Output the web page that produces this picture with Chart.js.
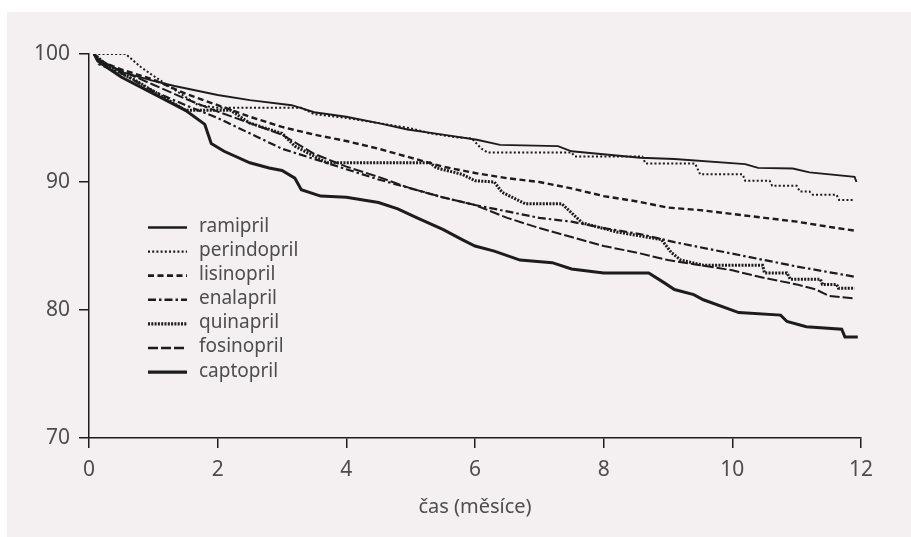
<!DOCTYPE html>
<html lang="cs">
<head>
    <meta charset="UTF-8">
    <title>Přežití podle ACE inhibitoru</title>
    <script src="https://cdn.jsdelivr.net/npm/chart.js"></script>
    <style>
        body {
            margin: 0;
            background: white;
        }
        .panel {
            position: absolute;
            left: 7px;
            top: 12px;
            width: 904px;
            height: 525px;
            background: #f4eff1;
        }
    </style>
</head>
<body>

    <div class="panel">
        <canvas id="kmChart" width="904" height="525"></canvas>
    </div>

    <script>
        // [months, % of patients]
        let ramipril = [[0.08,100],[0.15,99.6],[0.5,98.6],[1,97.9],[1.33,97.5],[2,96.8],[2.5,96.4],[3.15,96.0],[3.5,95.45],[4,95.1],[4.5,94.6],[4.95,94.1],[5.5,93.7],[6.03,93.3],[6.39,92.9],[7.29,92.8],[7.5,92.4],[8.57,91.9],[9.1,91.8],[10.2,91.4],[10.4,91.1],[10.94,91.05],[11.2,90.75],[11.9,90.4],[11.93,90.0]];
        let perindopril = [[0.08,100],[0.57,100],[0.8,99.0],[1,98.3],[1.3,97.3],[1.7,96.0],[2,95.8],[3.3,95.8],[3.5,95.3],[4,95.0],[4.5,94.6],[5,94.2],[5.3,93.8],[5.7,93.5],[5.95,93.4],[6.1,92.6],[6.2,92.3],[7.5,92.3],[7.55,92.0],[8.6,92.0],[8.65,91.45],[9.42,91.45],[9.5,90.6],[10.16,90.6],[10.2,90.1],[10.58,90.1],[10.62,89.7],[11,89.7],[11.05,89.25],[11.2,89.25],[11.25,89.0],[11.62,89.0],[11.66,88.6],[11.9,88.6]];
        let lisinopril = [[0.08,100],[0.15,99.5],[0.5,98.8],[1,98.0],[1.5,96.9],[2,96.0],[2.5,95.1],[3,94.3],[3.5,93.7],[4,93.2],[4.5,92.6],[5,91.9],[5.5,91.2],[6,90.7],[6.5,90.3],[7,90.0],[7.5,89.5],[8,88.9],[8.5,88.5],[9,88.0],[9.5,87.8],[10,87.5],[10.5,87.2],[11,86.9],[11.5,86.5],[11.9,86.2]];
        let enalapril = [[0.08,100],[0.15,99.2],[0.5,98.5],[1,97.1],[1.5,96.0],[2,95.0],[2.5,93.8],[3,92.6],[3.5,91.8],[4,91.0],[4.5,90.2],[5,89.5],[5.5,88.8],[6,88.2],[6.5,87.7],[7,87.2],[7.5,86.9],[8,86.4],[8.6,85.9],[9.1,85.3],[10,84.4],[11,83.4],[11.9,82.6]];
        let quinapril = [[0.08,100],[0.3,99.0],[0.7,98.0],[1.2,96.5],[1.5,95.6],[2.2,95.6],[2.5,94.6],[3,93.8],[3.2,92.8],[3.7,91.5],[5.3,91.5],[5.4,91.1],[5.8,90.6],[6,90.1],[6.3,90.0],[6.42,89.2],[6.78,88.3],[7.35,88.3],[7.67,86.8],[8.2,86.1],[8.9,85.5],[9.05,84.5],[9.2,83.9],[9.55,83.5],[10.47,83.5],[10.5,82.9],[10.85,82.9],[10.9,82.4],[11.37,82.4],[11.4,82.0],[11.62,82.0],[11.65,81.7],[11.9,81.7]];
        let fosinopril = [[0.08,100],[0.15,99.4],[0.5,98.7],[1,97.6],[1.5,96.5],[2,95.5],[2.5,94.6],[3,93.7],[3.5,92.2],[4,91.2],[4.5,90.4],[5,89.5],[5.5,88.8],[6,88.2],[6.5,87.2],[7,86.4],[7.5,85.7],[8,85.0],[8.5,84.5],[9,83.9],[9.5,83.5],[10,83.1],[10.5,82.5],[11,82.0],[11.3,81.6],[11.5,81.1],[11.9,80.9]];
        let captopril = [[0.08,100],[0.15,99.4],[0.5,98.2],[1,96.9],[1.5,95.6],[1.8,94.5],[1.9,93.0],[2.1,92.4],[2.5,91.5],[2.8,91.1],[3,90.9],[3.2,90.3],[3.3,89.4],[3.6,88.9],[4,88.8],[4.5,88.4],[4.8,87.9],[5.1,87.2],[5.5,86.3],[5.8,85.5],[6,85.0],[6.3,84.6],[6.7,83.9],[7.2,83.7],[7.5,83.2],[8,82.9],[8.7,82.9],[8.95,82.1],[9.1,81.6],[9.4,81.2],[9.55,80.8],[10.1,79.8],[10.75,79.6],[10.85,79.1],[11.15,78.7],[11.7,78.5],[11.75,77.9],[11.95,77.9]];

        let xTicks = [0, 2, 4, 6, 8, 10, 12];
        let yTicks = [70, 80, 90, 100];
        let xTitle = "čas (měsíce)";

        let textColor = "#4d4d4d";
        let lineColor = "#1c1c1c";
        let fontFamily = "'Noto Sans', 'Open Sans', sans-serif";

        function series(label, points, width, dash) {
            return {
                label: label,
                data: points.map(p => ({ x: p[0], y: p[1] })),
                borderColor: lineColor,
                borderWidth: width,
                borderDash: dash,
                borderCapStyle: 'butt',
                pointRadius: 0,
                tension: 0,
                fill: false
            };
        }

        // legend drawn inside the plot area, like the original figure
        let innerLegend = {
            id: 'innerLegend',
            afterDraw(chart) {
                let ctx = chart.ctx;
                ctx.save();
                ctx.font = "19px " + fontFamily;
                ctx.textBaseline = 'middle';
                chart.data.datasets.forEach((ds, i) => {
                    let y = 215.5 + i * 24.1;
                    ctx.strokeStyle = ds.borderColor;
                    ctx.lineWidth = ds.borderWidth + 0.4;
                    ctx.lineCap = 'butt';
                    ctx.setLineDash(ds.borderDash);
                    ctx.beginPath();
                    ctx.moveTo(141, y);
                    ctx.lineTo(180, y);
                    ctx.stroke();
                    ctx.setLineDash([]);
                    ctx.fillStyle = textColor;
                    ctx.fillText(ds.label, 192, y - 1);
                });
                ctx.restore();
            }
        };

        let ctx = document.getElementById('kmChart').getContext('2d');
        let kmChart = new Chart(ctx, {
            type: 'line',
            data: {
                datasets: [
                    series('ramipril', ramipril, 1.9, []),
                    series('perindopril', perindopril, 2, [2, 2.2]),
                    series('lisinopril', lisinopril, 2.4, [6, 3.5]),
                    series('enalapril', enalapril, 2.2, [8, 3, 2.5, 3]),
                    series('quinapril', quinapril, 3, [2, 1.3]),
                    series('fosinopril', fosinopril, 2, [10, 3]),
                    series('captopril', captopril, 3, [])
                ]
            },
            options: {
                responsive: false,
                animation: false,
                layout: { padding: { top: 42, right: 50, left: 0, bottom: 0 } },
                scales: {
                    x: {
                        type: 'linear',
                        min: 0,
                        max: 12,
                        afterBuildTicks: s => { s.ticks = xTicks.map(v => ({ value: v })); },
                        afterFit: s => { s.height = 99; },
                        grid: { drawOnChartArea: false, drawTicks: true, tickLength: 10, color: lineColor, lineWidth: 1.5 },
                        border: { color: lineColor, width: 1.5 },
                        ticks: { color: textColor, padding: 9, font: { family: fontFamily, size: 21 } },
                        title: {
                            display: true,
                            text: xTitle,
                            color: textColor,
                            font: { family: fontFamily, size: 20 },
                            padding: { top: 0, bottom: 18 }
                        }
                    },
                    y: {
                        min: 70,
                        max: 100,
                        afterBuildTicks: s => { s.ticks = yTicks.map(v => ({ value: v })); },
                        afterFit: s => { s.width = 82; },
                        grid: { drawOnChartArea: false, drawTicks: true, tickLength: 10, color: lineColor, lineWidth: 1.5 },
                        border: { color: lineColor, width: 1.5 },
                        ticks: { color: textColor, padding: 9, font: { family: fontFamily, size: 21 } }
                    }
                },
                plugins: {
                    legend: { display: false },
                    tooltip: { enabled: false }
                }
            },
            plugins: [innerLegend]
        });
    </script>
</body>
</html>
